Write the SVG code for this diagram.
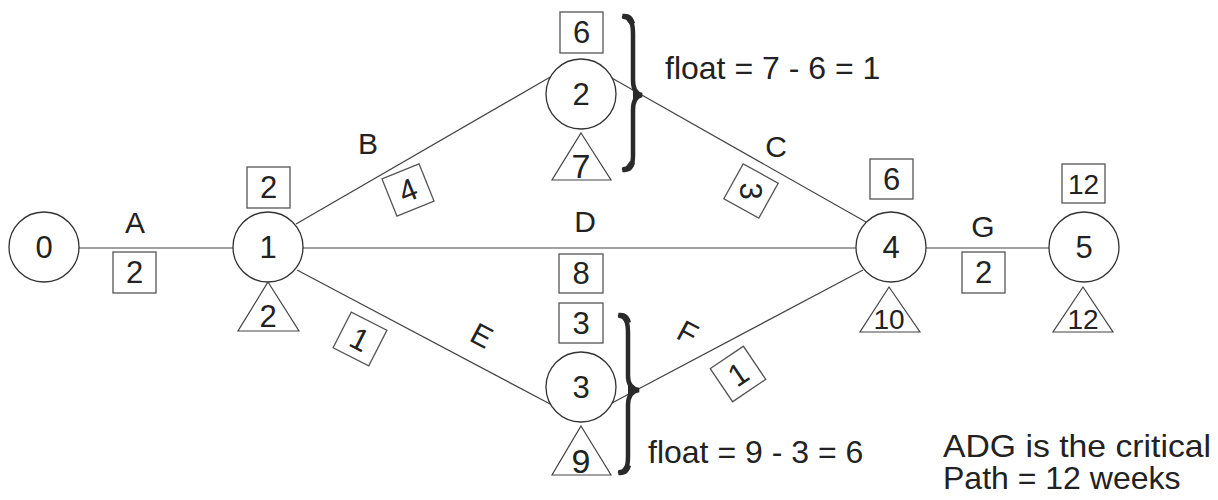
<svg xmlns="http://www.w3.org/2000/svg" width="1218" height="500" viewBox="0 0 1218 500">
<style>
  text { font-family: "Liberation Sans", Arial, sans-serif; fill: #222; }
  .n { font-size: 31px; text-anchor: middle; }
  .big { font-size: 34px; text-anchor: middle; }
  .s { font-size: 28px; text-anchor: middle; }
  .lbl { font-size: 30px; text-anchor: middle; }
  .note { font-size: 32px; }
  .node { fill: #fff; stroke: #333; stroke-width: 1.3; }
  .box { fill: #fff; stroke: #555; stroke-width: 1.3; }
  .tri { fill: #fff; stroke: #444; stroke-width: 1.2; }
  .edge { stroke: #444; stroke-width: 1.2; fill: none; }
  .brace { fill: none; stroke: #2a2a2a; stroke-width: 4.5; stroke-linecap: round; }
</style>
<rect width="1218" height="500" fill="#fff"/>

<g id="connectors">
  <line class="edge" x1="79" y1="248" x2="234" y2="248"/>
  <line class="edge" x1="303" y1="248" x2="856" y2="248"/>
  <line class="edge" x1="926" y1="248" x2="1049" y2="248"/>
  <line class="edge" x1="296" y1="224" x2="552" y2="76"/>
  <line class="edge" x1="610" y1="77" x2="866" y2="222"/>
  <line class="edge" x1="297" y1="270" x2="552" y2="405"/>
  <line class="edge" x1="612" y1="403" x2="863" y2="270"/>
</g>

<g id="edge-labels">
  <text class="lbl" x="135" y="233">A</text>
  <text class="lbl" x="368" y="154">B</text>
  <text class="lbl" x="776" y="157">C</text>
  <text class="lbl" x="585" y="232">D</text>
  <text class="lbl" x="983" y="237">G</text>
  <text class="lbl" transform="translate(482,335) rotate(28)" x="0" y="11">E</text>
  <text class="lbl" transform="translate(688,332) rotate(28)" x="0" y="11">F</text>
</g>

<g id="durations">
  <g id="dur-A"><rect class="box" x="113" y="252" width="43" height="41"/><text class="n" x="134.5" y="283">2</text></g>
  <g id="dur-D"><rect class="box" x="559" y="254" width="44" height="39"/><text class="n" x="581" y="284">8</text></g>
  <g id="dur-G"><rect class="box" x="962" y="252" width="43" height="41"/><text class="n" x="983.5" y="283">2</text></g>
  <g id="dur-B" transform="translate(408,190) rotate(-22)"><rect class="box" x="-20" y="-20" width="40" height="40"/><text class="n" x="0" y="11">4</text></g>
  <g id="dur-C" transform="translate(751,191) rotate(29)"><rect class="box" x="-20" y="-20" width="40" height="40"/><text class="n" transform="rotate(61)" x="0" y="11">3</text></g>
  <g id="dur-E" transform="translate(360,339) rotate(27)"><rect class="box" x="-20" y="-20" width="40" height="40"/><text class="n" x="0" y="11">1</text></g>
  <g id="dur-F" transform="translate(738,374) rotate(-34)"><rect class="box" x="-20" y="-20" width="40" height="40"/><text class="n" x="0" y="11">1</text></g>
</g>

<g id="node-0">
  <circle class="node" cx="44" cy="247" r="35"/>
  <text class="n" x="44" y="258">0</text>
</g>
<g id="node-1">
  <circle class="node" cx="268" cy="247" r="35"/>
  <text class="n" x="268" y="258">1</text>
  <rect class="box" x="247" y="167" width="43" height="41"/>
  <text class="n" x="268.5" y="198">2</text>
  <polygon class="tri" points="268,282 299,331 238,331"/>
  <text class="n" x="268" y="327">2</text>
</g>
<g id="node-2">
  <circle class="node" cx="581" cy="94" r="35"/>
  <text class="n" x="581" y="105">2</text>
  <rect class="box" x="560" y="12" width="43" height="41"/>
  <text class="n" x="581.5" y="43">6</text>
  <polygon class="tri" points="581,133 611,180 552,180"/>
  <text class="big" x="581" y="178">7</text>
</g>
<g id="node-3">
  <circle class="node" cx="581" cy="387" r="35"/>
  <text class="n" x="581" y="398">3</text>
  <rect class="box" x="559" y="303" width="44" height="40"/>
  <text class="n" x="581" y="334">3</text>
  <polygon class="tri" points="581,426 611,475 552,475"/>
  <text class="big" x="581" y="473">9</text>
</g>
<g id="node-4">
  <circle class="node" cx="891" cy="247" r="35"/>
  <text class="n" x="891" y="258">4</text>
  <rect class="box" x="870" y="159" width="43" height="40"/>
  <text class="n" x="891.5" y="190">6</text>
  <polygon class="tri" points="889,287 920,332 860,332"/>
  <text class="s" x="889" y="329">10</text>
</g>
<g id="node-5">
  <circle class="node" cx="1084" cy="247" r="35"/>
  <text class="n" x="1084" y="258">5</text>
  <rect class="box" x="1062" y="164" width="43" height="39"/>
  <text class="s" x="1083.5" y="194">12</text>
  <polygon class="tri" points="1083,287 1113,332 1053,332"/>
  <text class="s" x="1083" y="329">12</text>
</g>

<g id="float-1">
  <path class="brace" d="M 624,17 C 631,17 633,23 633,34 L 633,80 C 633,89 636,94 642,95 C 636,96 633,101 633,110 L 633,155 C 633,165 631,169 624,169"/>
  <path d="M 622,14 C 629,13 633,16 635,23 L 630,25 Z M 622,172 C 629,173 633,170 635,163 L 630,161 Z M 633,88 L 642,95 L 633,102 Z" fill="#2a2a2a"/>
  <text class="note" x="665" y="79">float = 7 - 6 = 1</text>
</g>
<g id="float-2">
  <path class="brace" d="M 620,316 C 626,316 628,322 628,333 L 628,376 C 628,385 632,389 639,390 C 632,391 628,396 628,405 L 628,456 C 628,467 626,472 620,472"/>
  <path d="M 618,313 C 625,312 629,315 631,322 L 626,324 Z M 618,475 C 625,476 629,473 631,466 L 626,464 Z M 628,383 L 639,390 L 628,397 Z" fill="#2a2a2a"/>
  <text class="note" x="648" y="463">float = 9 - 3 = 6</text>
</g>
<g id="summary">
  <text class="note" x="943" y="457" textLength="268" lengthAdjust="spacingAndGlyphs">ADG is the critical</text>
  <text class="note" x="943" y="489">Path = 12 weeks</text>
</g>
</svg>
